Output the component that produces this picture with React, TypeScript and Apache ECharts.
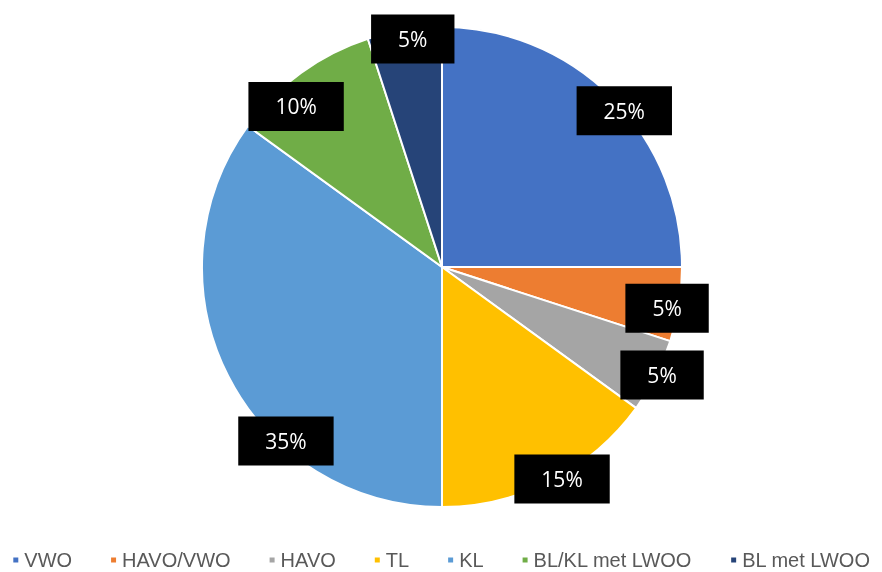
import React, { useEffect, useRef } from "react";
import * as echarts from "echarts";

const categories = ["VWO", "HAVO/VWO", "HAVO", "TL", "KL", "BL/KL met LWOO", "BL met LWOO"];
const values = [25, 5, 5, 15, 35, 10, 5];
const colors = ["#4472C4", "#ED7D31", "#A5A5A5", "#FFC000", "#5B9BD5", "#70AD47", "#264478"];
// small "best fit" nudges of the data labels (style, not data)
const labelNudge: [number, number][] = [[14, 12], [-10, 4], [8, 0], [12, 0], [56, 66], [-6, 32], [8, 7]];

export default function App() {
  const ref = useRef<HTMLDivElement>(null);
  useEffect(() => {
    if (!ref.current) return;
    const chart = echarts.init(ref.current, undefined, { renderer: "svg" });
    const data = categories.map((name, i) => ({ name, value: values[i] }));
    chart.setOption({
      animation: false,
      color: colors,
      legend: {
        top: 550,
        left: "center",
        padding: 0,
        icon: "rect",
        itemWidth: 7,
        itemHeight: 7,
        itemGap: 37,
        textStyle: { color: "#595959", fontSize: 20, fontFamily: "Liberation Sans" },
        data: categories,
      },
      series: [
        {
          type: "pie",
          center: [442, 267],
          radius: 240,
          startAngle: 90,
          clockwise: true,
          silent: true,
          itemStyle: { borderColor: "#ffffff", borderWidth: 2 },
          label: { show: false },
          labelLine: { show: false },
          data,
        },
        {
          type: "pie",
          center: [442, 267],
          radius: [0, 470],
          startAngle: 90,
          clockwise: true,
          silent: true,
          itemStyle: { color: "rgba(0,0,0,0)" },
          label: {
            show: true,
            position: "inside",
            formatter: (p: any) => p.value + "%",
            color: "#ffffff",
            fontSize: 21,
            fontFamily: "Open Sans",
            backgroundColor: "#000000",
            padding: [14, 27],
          },
          labelLayout: (p: any) => {
            const n = labelNudge[p.dataIndex] || [0, 0];
            return { dx: n[0], dy: n[1] };
          },
          labelLine: { show: false },
          data,
        },
      ],
    });
    return () => chart.dispose();
  }, []);
  return <div ref={ref} style={{ position: "fixed", left: 0, top: 0, width: 882, height: 572 }} />;
}
